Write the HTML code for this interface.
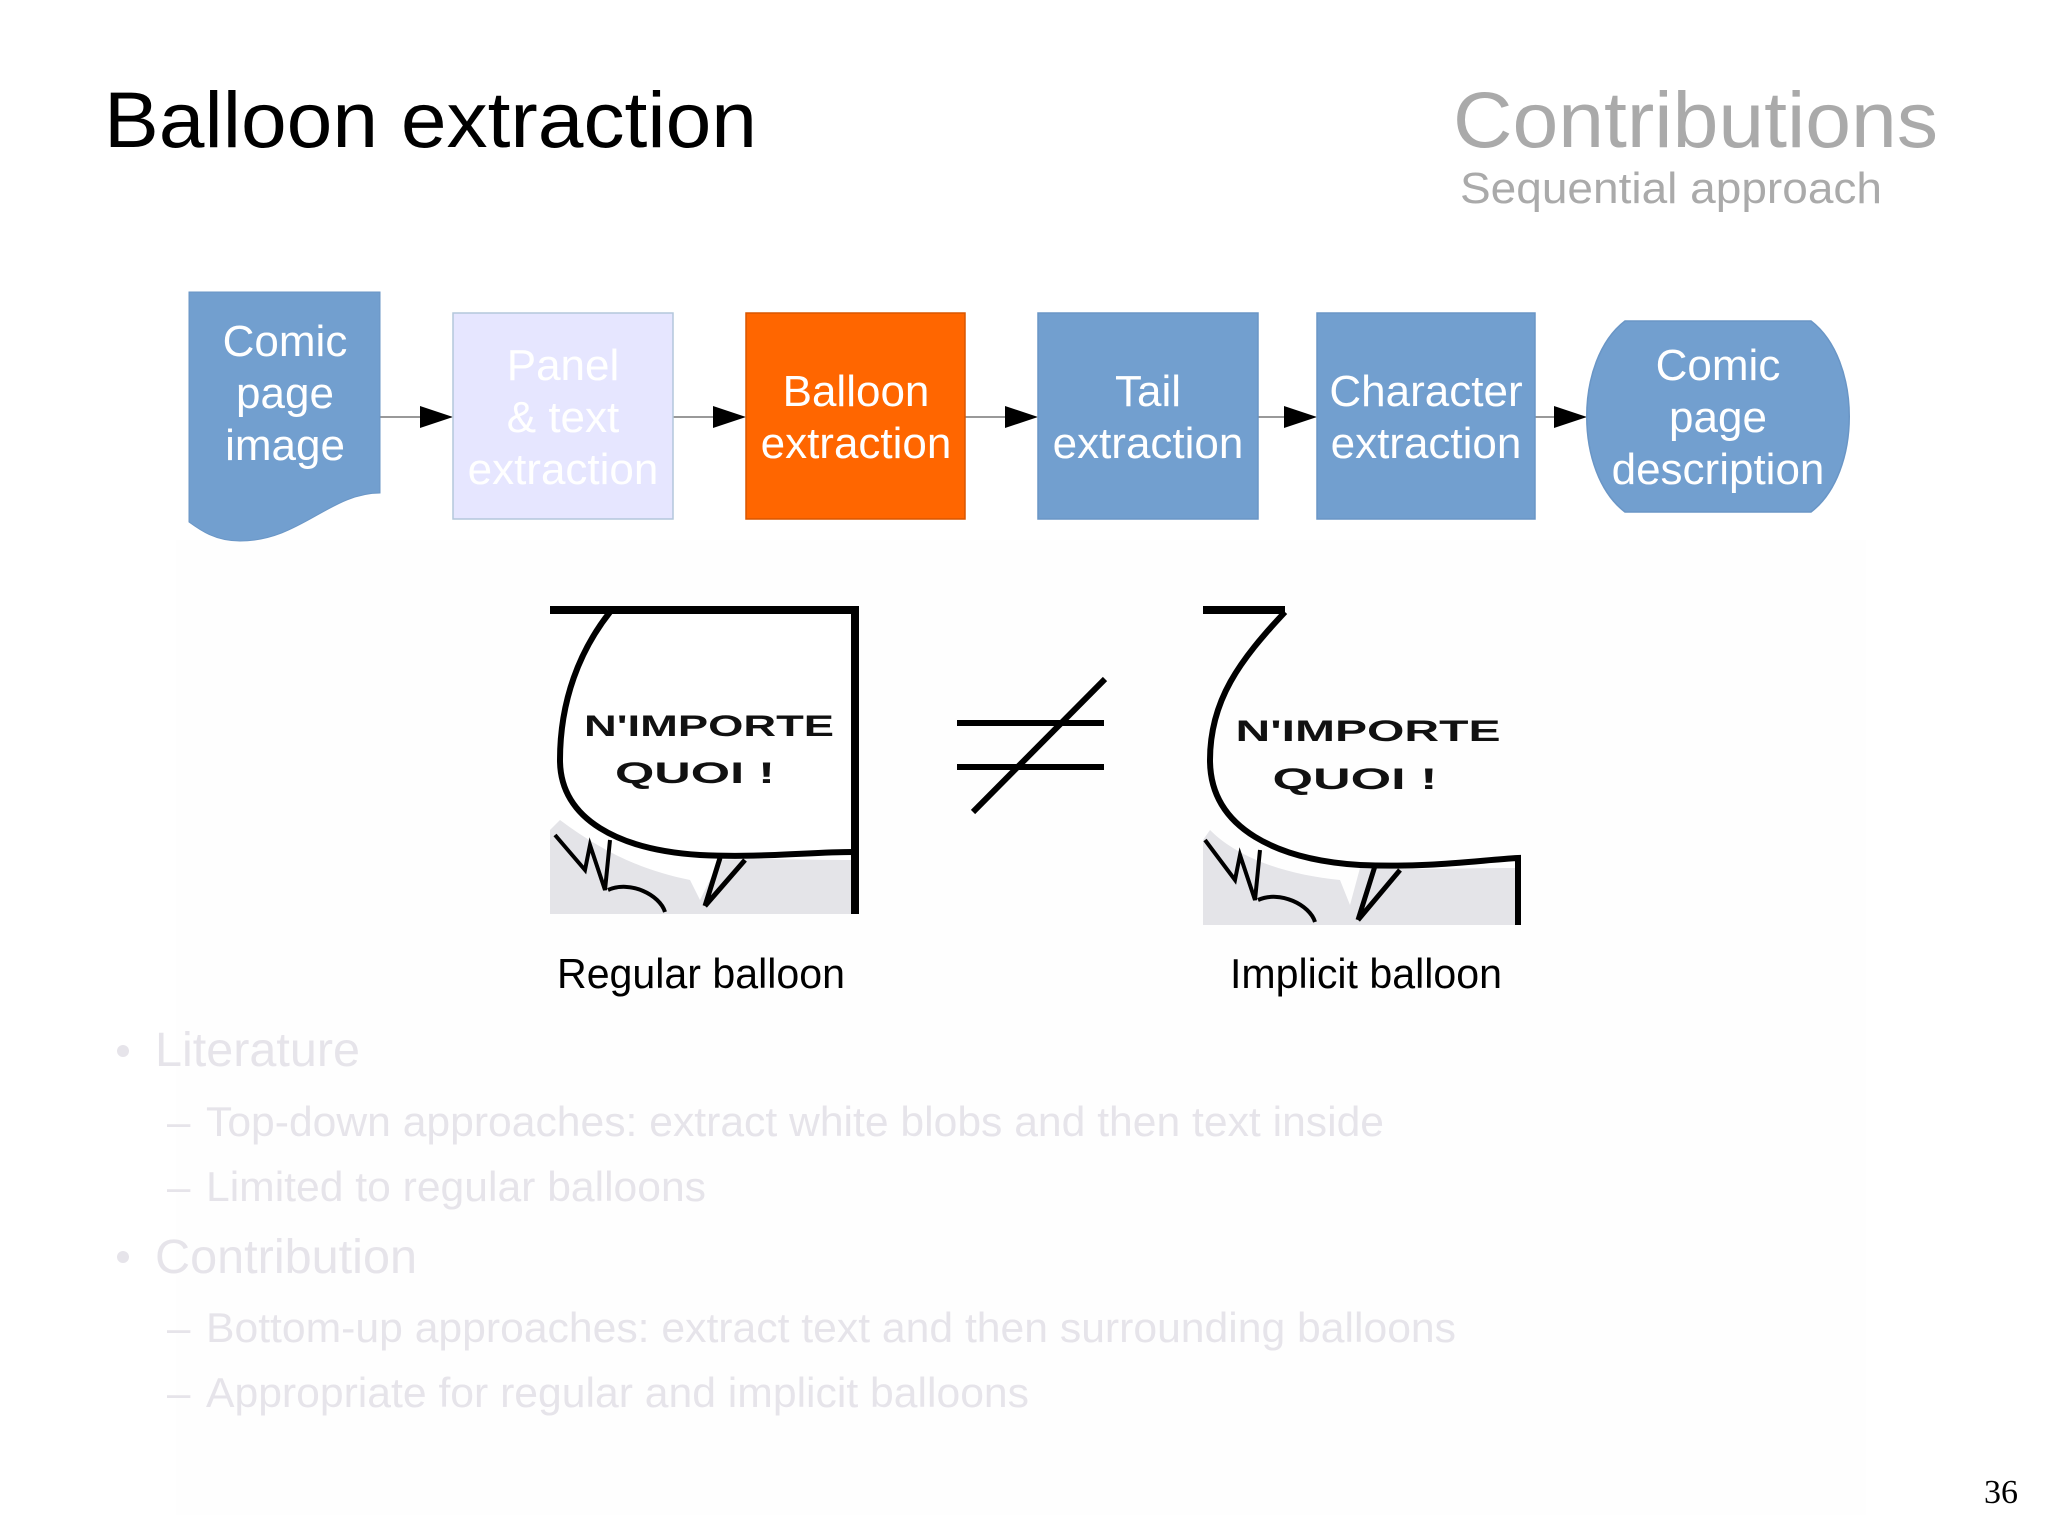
<!DOCTYPE html>
<html><head><meta charset="utf-8"><style>
html,body{margin:0;padding:0;background:#fff;}
svg{display:block;}
text{font-family:"Liberation Sans",sans-serif;}
</style></head><body>
<svg width="2048" height="1535" viewBox="0 0 2048 1535" xmlns="http://www.w3.org/2000/svg">
<rect width="2048" height="1535" fill="#fff"/>
<rect x="176" y="540" width="1690" height="975" fill="#fefefe"/>
<!-- titles -->
<text x="104" y="147" font-size="79" fill="#000" textLength="653" lengthAdjust="spacingAndGlyphs">Balloon extraction</text>
<text x="1938" y="147" font-size="79" fill="#aaaaaa" text-anchor="end" textLength="485" lengthAdjust="spacingAndGlyphs">Contributions</text>
<text x="1460" y="203" font-size="44" fill="#aaaaaa" textLength="422" lengthAdjust="spacingAndGlyphs">Sequential approach</text>

<!-- connectors -->
<g stroke="#999" stroke-width="2">
<line x1="380" y1="417" x2="425" y2="417"/>
<line x1="673" y1="417" x2="718" y2="417"/>
<line x1="965" y1="417" x2="1010" y2="417"/>
<line x1="1258" y1="417" x2="1290" y2="417"/>
<line x1="1535" y1="417" x2="1560" y2="417"/>
</g>
<g fill="#000">
<polygon points="420,406 453,417 420,428"/>
<polygon points="713,406 746,417 713,428"/>
<polygon points="1005,406 1038,417 1005,428"/>
<polygon points="1284,406 1317,417 1284,428"/>
<polygon points="1554,406 1587,417 1554,428"/>
</g>

<!-- document shape -->
<path d="M189,292 H380 V493 C330,493 300,541 240,541 C215,541 200,530 189,522 Z" fill="#729fcf" stroke="#6a96c6" stroke-width="1"/>
<g font-size="44" fill="#fff" text-anchor="middle">
<text x="285" y="356">Comic</text>
<text x="285" y="408">page</text>
<text x="285" y="460">image</text>
</g>
<!-- panel -->
<rect x="453" y="313" width="220" height="206" fill="#e6e6ff" stroke="#b4c7dc" stroke-width="1.5"/>
<g font-size="44" fill="#fff" text-anchor="middle">
<text x="563" y="380">Panel</text>
<text x="563" y="432">&amp; text</text>
<text x="563" y="484">extraction</text>
</g>
<!-- balloon -->
<rect x="746" y="313" width="219" height="206" fill="#ff6600" stroke="#d95700" stroke-width="1.5"/>
<rect x="1038" y="313" width="220" height="206" fill="#729fcf" stroke="#6a96c6" stroke-width="1.5"/>
<rect x="1317" y="313" width="218" height="206" fill="#729fcf" stroke="#6a96c6" stroke-width="1.5"/>
<g font-size="44" fill="#fff" text-anchor="middle">
<text x="856" y="406">Balloon</text>
<text x="856" y="458">extraction</text>
<text x="1148" y="406">Tail</text>
<text x="1148" y="458">extraction</text>
<text x="1426" y="406">Character</text>
<text x="1426" y="458">extraction</text>
</g>
<!-- terminal -->
<path d="M1625,321 H1811 C1862,360 1862,473 1811,512 H1625 C1574,473 1574,360 1625,321 Z" fill="#729fcf" stroke="#6a96c6" stroke-width="1.5"/>
<g font-size="44" fill="#fff" text-anchor="middle">
<text x="1718" y="380">Comic</text>
<text x="1718" y="432">page</text>
<text x="1718" y="484">description</text>
</g>

<!-- regular balloon image -->
<g>
<rect x="550" y="605" width="305" height="309" fill="#fff"/>
<path d="M550,830 L550,914 L855,914 L855,860 C800,860 760,858 720,860 L700,900 L690,880 C640,870 600,850 560,820 Z" fill="#e4e4e8"/>
<path d="M550,610 H855 V914" fill="none" stroke="#000" stroke-width="8"/>
<path d="M610,612 C580,650 560,700 560,760 C560,820 620,850 700,855 C760,858 810,852 853,852" fill="none" stroke="#000" stroke-width="6"/>
<path d="M720,858 L705,906 M705,906 L745,860" fill="none" stroke="#000" stroke-width="5"/>
<path d="M555,835 L585,870 L590,845 L605,890 L610,840" fill="none" stroke="#000" stroke-width="4"/>
<path d="M608,890 C630,880 660,895 665,912" fill="none" stroke="#000" stroke-width="4"/>
<text x="709" y="736" font-size="30" font-weight="bold" text-anchor="middle" fill="#111" textLength="250" lengthAdjust="spacingAndGlyphs">N'IMPORTE</text>
<text x="695" y="783" font-size="30" font-weight="bold" text-anchor="middle" fill="#111" textLength="160" lengthAdjust="spacingAndGlyphs">QUOI  !</text>
</g>
<!-- not equal -->
<g stroke="#000" stroke-width="6">
<line x1="957" y1="723" x2="1104" y2="723"/>
<line x1="957" y1="767" x2="1104" y2="767"/>
<line x1="1105" y1="679" x2="973" y2="812"/>
</g>
<!-- implicit balloon image -->
<g>
<path d="M1203,840 L1203,925 L1520,925 L1520,868 C1460,868 1410,870 1360,868 L1350,905 L1340,880 C1290,875 1240,860 1210,830 Z" fill="#e4e4e8"/>
<path d="M1203,610 H1285" fill="none" stroke="#000" stroke-width="8"/>
<path d="M1285,612 C1240,660 1210,700 1210,760 C1210,830 1280,860 1360,865 C1430,868 1480,860 1518,858 V925" fill="none" stroke="#000" stroke-width="6"/>
<path d="M1375,866 L1358,920 M1358,920 L1400,870" fill="none" stroke="#000" stroke-width="5"/>
<path d="M1205,840 L1235,880 L1240,855 L1255,900 L1260,850" fill="none" stroke="#000" stroke-width="4"/>
<path d="M1258,900 C1280,890 1310,905 1315,922" fill="none" stroke="#000" stroke-width="4"/>
<text x="1368" y="741" font-size="30" font-weight="bold" text-anchor="middle" fill="#111" textLength="265" lengthAdjust="spacingAndGlyphs">N'IMPORTE</text>
<text x="1355" y="789" font-size="30" font-weight="bold" text-anchor="middle" fill="#111" textLength="165" lengthAdjust="spacingAndGlyphs">QUOI  !</text>
</g>
<g font-size="42" fill="#000" text-anchor="middle">
<text x="701" y="988" textLength="288" lengthAdjust="spacingAndGlyphs">Regular balloon</text>
<text x="1366" y="988" textLength="272" lengthAdjust="spacingAndGlyphs">Implicit balloon</text>
</g>

<!-- faint bullets -->
<g fill="#e6e4ea">
<circle cx="123" cy="1051" r="6"/>
<text x="155" y="1066" font-size="48" textLength="205" lengthAdjust="spacingAndGlyphs">Literature</text>
<text x="167" y="1136" font-size="42">–</text>
<text x="206" y="1136" font-size="42" textLength="1178" lengthAdjust="spacingAndGlyphs">Top-down approaches: extract white blobs and then text inside</text>
<text x="167" y="1201" font-size="42">–</text>
<text x="206" y="1201" font-size="42" textLength="500" lengthAdjust="spacingAndGlyphs">Limited to regular balloons</text>
<circle cx="123" cy="1257" r="6"/>
<text x="155" y="1273" font-size="48" textLength="262" lengthAdjust="spacingAndGlyphs">Contribution</text>
<text x="167" y="1342" font-size="42">–</text>
<text x="206" y="1342" font-size="42" textLength="1250" lengthAdjust="spacingAndGlyphs">Bottom-up approaches: extract text and then surrounding balloons</text>
<text x="167" y="1407" font-size="42">–</text>
<text x="206" y="1407" font-size="42" textLength="823" lengthAdjust="spacingAndGlyphs">Appropriate for regular and implicit balloons</text>
</g>
<text x="2018" y="1503" font-size="34" fill="#000" text-anchor="end" style="font-family:'Liberation Serif',serif">36</text>
</svg>
</body></html>
